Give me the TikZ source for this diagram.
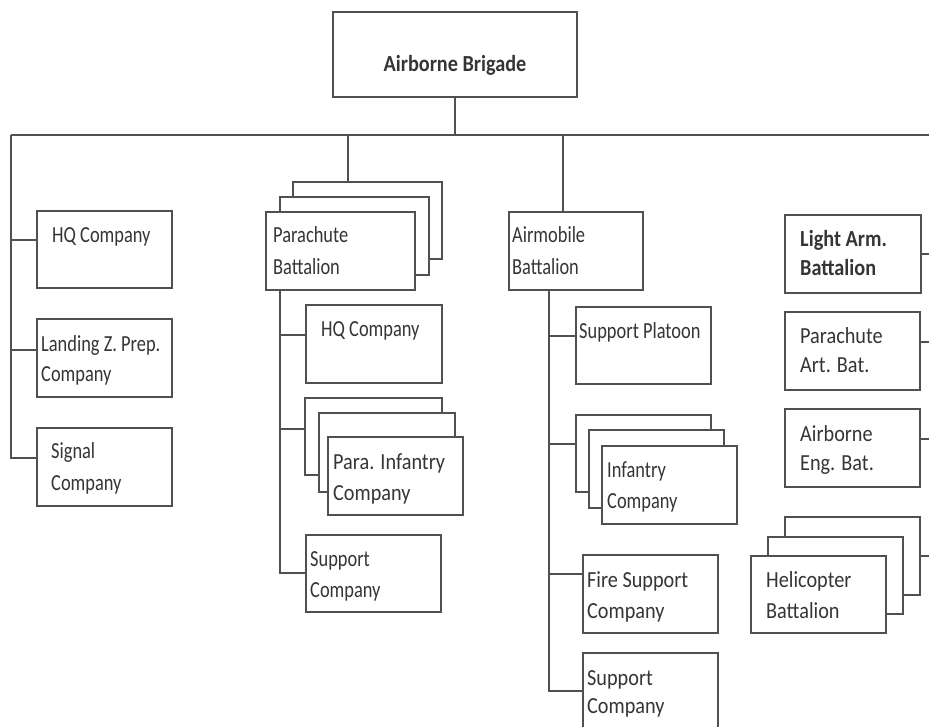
\documentclass[tikz,border=0pt]{standalone}
\usepackage{fontspec}
\setmainfont{Carlito}
\newfontfamily\condf[FakeStretch=0.8]{Carlito}
\newfontfamily\normf[FakeStretch=0.88]{Carlito}
\definecolor{ln}{HTML}{505050}
\definecolor{tx}{HTML}{353535}
\tikzset{
 box/.style={draw=ln, line width=1.4pt, fill=white, rectangle, inner sep=0pt, outer sep=0pt, anchor=north west},
 conn/.style={draw=ln, line width=1.4pt},
 lbls/.style={anchor=base west, inner sep=0pt, text=tx, font=\condf\fontsize{23}{27}\selectfont},
 lblm/.style={lbls, font=\normf\fontsize{23}{27}\selectfont},
 lblbold/.style={lbls, font=\normf\fontsize{23}{27}\selectfont\bfseries},
}
\newcommand\mybox[5]{\pgfmathsetmacro\bxw{#4-#2}\pgfmathsetmacro\bxh{#5-#3}\node[box,minimum width=\bxw pt,minimum height=\bxh pt] (#1) at (#2,#3) {};}
\begin{document}
\begin{tikzpicture}[x=1pt,y=-1pt]
\useasboundingbox (0,0) rectangle (929,727);
\clip (0,0) rectangle (929,727);
\fill[white] (0,0) rectangle (929,727);

% top
\node[box, line width=2.8pt, minimum width=244pt, minimum height=85pt] (brig) at (333,12) {};
\node[lblbold, anchor=base] (tbrig) at (455,72) {Airborne Brigade};
\coordinate (HL) at (11,135);
\coordinate (HR) at (940,135);
\draw[conn] (brig.south) -- (brig.south |- HL);
\draw[conn] (HL) -- (HR);

% left column
\mybox{hq1}{37}{211}{172}{288}
\mybox{lz}{37}{319}{172}{397}
\mybox{sig}{37}{428}{172}{506}
\draw[conn] (HL) |- (sig.west |- 0,458);
\draw[conn] (HL |- 0,240) -- (hq1.west |- 0,240);
\draw[conn] (HL |- 0,350) -- (lz.west |- 0,350);
\node[lbls] (t1) at (52,243) {HQ Company};
\node[lbls] (t2a) at (41,351) {Landing Z. Prep.};
\node[lbls] (t2b) at (41,381) {Company};
\node[lbls] (t3a) at (51,458) {Signal};
\node[lbls] (t3b) at (51,490) {Company};

% parachute battalion
\mybox{pb3}{293}{182}{442}{259}
\mybox{pb2}{280}{197}{429}{275}
\mybox{pb1}{266}{212}{415}{290}
\draw[conn] (HL -| 348,0) -- (pb3.north -| 348,0);
\node[lbls] (t4a) at (273,243) {Parachute};
\node[lbls] (t4b) at (273,275) {Battalion};
\mybox{hq2}{306}{305}{442}{383}
\mybox{pi3}{305}{398}{442}{475}
\mybox{pi2}{319}{413}{455}{492}
\mybox{pi1}{328}{437}{463}{515}
\mybox{psup}{306}{535}{441}{612}
\coordinate (PV) at (280,290);
\draw[conn] (PV) |- (psup.west |- 0,573);
\draw[conn] (PV |- 0,335) -- (hq2.west |- 0,335);
\draw[conn] (PV |- 0,429) -- (pi3.west |- 0,429);
\node[lbls] (t5) at (321,337) {HQ Company};
\node[lblm] (t6a) at (333,469) {Para. Infantry};
\node[lblm] (t6b) at (333,500) {Company};
\node[lbls] (t7a) at (310,566) {Support};
\node[lbls] (t7b) at (310,597) {Company};

% airmobile battalion
\mybox{am}{509}{212}{643}{290}
\draw[conn] (HL -| 563,0) -- (am.north -| 563,0);
\node[lbls] (t8a) at (512,243) {Airmobile};
\node[lbls] (t8b) at (512,275) {Battalion};
\mybox{sp}{576}{307}{711}{384}
\mybox{in3}{576}{415}{711}{492}
\mybox{in2}{589}{430}{724}{508}
\mybox{in1}{602}{446}{737}{524}
\mybox{fs}{583}{555}{718}{633}
\mybox{asup}{583}{653}{718}{760}
\coordinate (AV) at (549,290);
\draw[conn] (AV) |- (asup.west |- 0,691);
\draw[conn] (AV |- 0,336) -- (sp.west |- 0,336);
\draw[conn] (AV |- 0,444) -- (in3.west |- 0,444);
\draw[conn] (AV |- 0,574) -- (fs.west |- 0,574);
\node[lbls] (t9) at (579,338) {Support Platoon};
\node[lbls] (t10a) at (607,477) {Infantry};
\node[lbls] (t10b) at (607,508) {Company};
\node[lblm] (t11a) at (587,587) {Fire Support};
\node[lblm] (t11b) at (587,618) {Company};
\node[lblm] (t12a) at (587,685) {Support};
\node[lblm] (t12b) at (587,713) {Company};

% right column
\mybox{la}{785}{215}{921}{293}
\mybox{pa}{785}{312}{920}{390}
\mybox{ae}{785}{409}{920}{487}
\mybox{hel3}{785}{517}{920}{595}
\mybox{hel2}{768}{537}{903}{614}
\mybox{hel1}{751}{556}{886}{633}
\coordinate (RV) at (940,0);
\draw[conn] (la.east |- 0,254) -- (RV |- 0,254);
\draw[conn] (pa.east |- 0,342) -- (RV |- 0,342);
\draw[conn] (ae.east |- 0,439) -- (RV |- 0,439);
\draw[conn] (hel3.east |- 0,556) -- (RV |- 0,556);
\node[lblbold] (t13a) at (800,247) {Light Arm.};
\node[lblbold] (t13b) at (800,276) {Battalion};
\node[lblm] (t14a) at (800,343) {Parachute};
\node[lblm] (t14b) at (800,372) {Art. Bat.};
\node[lblm] (t15a) at (800,441) {Airborne};
\node[lblm] (t15b) at (800,470) {Eng. Bat.};
\node[lblm] (t16a) at (766,587) {Helicopter};
\node[lblm] (t16b) at (766,618) {Battalion};
\end{tikzpicture}
\end{document}
